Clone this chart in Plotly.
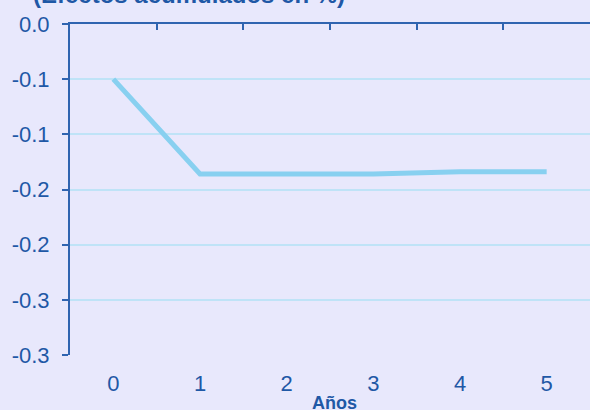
import plotly.graph_objects as go

years = ["0", "1", "2", "3", "4", "5"]
values = [-0.05, -0.136, -0.136, -0.136, -0.134, -0.134]
y_ticks = [0.0, -0.05, -0.10, -0.15, -0.20, -0.25, -0.30]
y_tick_labels = ["0.0", "-0.1", "-0.1", "-0.2", "-0.2", "-0.3", "-0.3"]
title_text = "(Efectos acumulados en %)"
x_title = "Años"

BG = "#E8E8FC"
AXIS = "#2F64B0"
TEXT = "#1F58A6"
GRID = "#BFE3F7"
LINE = "#88D0F0"
FONT = "Liberation Sans, Arial"

fig = go.Figure()
fig.add_trace(go.Scatter(x=list(range(len(years))), y=values, mode="lines",
                         line=dict(color=LINE, width=5), showlegend=False,
                         hoverinfo="skip"))
# invisible trace on top axis to show category-boundary ticks
fig.add_trace(go.Scatter(x=[0], y=[0], xaxis="x2", mode="markers",
                         marker=dict(opacity=0), showlegend=False, hoverinfo="skip"))

fig.update_layout(
    width=590, height=410,
    margin=dict(l=70, r=0, t=24, b=55, autoexpand=False),
    paper_bgcolor=BG, plot_bgcolor=BG,
    font=dict(family=FONT, color=TEXT, size=22),
    xaxis=dict(range=[-0.5, 5.5], tickvals=list(range(len(years))), ticktext=years,
               showgrid=False, zeroline=False, showline=False, ticks="",
               tickfont=dict(size=22, color=TEXT), ticklabelstandoff=13,
               fixedrange=True, automargin=False),
    xaxis2=dict(range=[-0.5, 5.5], overlaying="x", side="top", anchor="y",
                tickvals=[i - 0.5 for i in range(len(years) + 1)],
                showticklabels=False, ticks="inside", ticklen=6, tickwidth=1.5,
                tickcolor=AXIS, showline=True, linecolor=AXIS, linewidth=2,
                showgrid=False, zeroline=False, automargin=False),
    yaxis=dict(range=[-0.30, 0.0], tickvals=y_ticks, ticktext=y_tick_labels,
               showgrid=True, gridcolor=GRID, gridwidth=1.5, zeroline=False,
               showline=True, linecolor=AXIS, linewidth=2,
               ticks="outside", ticklen=6, tickcolor=AXIS, tickwidth=1.5,
               tickfont=dict(size=22, color=TEXT), ticklabelstandoff=8,
               automargin=False),
    annotations=[
        dict(text="<b>" + title_text + "</b>", xref="paper", yref="paper",
             x=-0.075, y=1.0, yshift=14, xanchor="left", yanchor="bottom",
             showarrow=False, font=dict(size=24, color=TEXT)),
        dict(text="<b>" + x_title + "</b>", xref="paper", yref="paper",
             x=0.5, y=0.0, xshift=4, yshift=-36, xanchor="center", yanchor="top",
             showarrow=False, font=dict(size=18, color=TEXT)),
    ],
)

fig.write_html("out.html", config={"displayModeBar": False},
               post_script="document.body.style.margin='0';")
